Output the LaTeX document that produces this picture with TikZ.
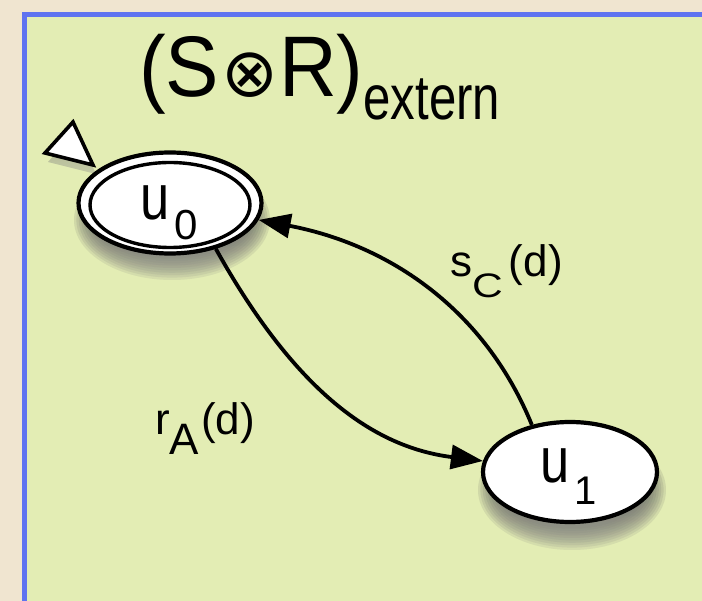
\documentclass[tikz,border=0pt]{standalone}
\usepackage{fontspec}
\setmainfont{Liberation Sans}
\newfontfamily\dejavu{DejaVu Sans}
\usetikzlibrary{arrows.meta,shapes.geometric}
\definecolor{parch}{RGB}{240,229,208}
\definecolor{panel}{RGB}{227,237,180}
\definecolor{frame}{RGB}{95,115,240}
\definecolor{shade}{RGB}{45,45,5}
\tikzset{
  state/.style={ellipse, draw=black, line width=4.2pt, fill=white, inner sep=0pt},
  edge/.style={line width=3.8pt, -{Triangle[length=32pt,width=24pt]}},
  lbl/.style={anchor=base west, inner sep=0pt, text=black},
}
\newcommand{\softshadow}[4]{% cx cy rx ry
  \foreach \k in {0,...,9}{
    \fill[shade, opacity=0.075] (#1,#2) ellipse [x radius={#3+10-2.4*\k}, y radius={#4+12-2.4*\k}];
  }}
\begin{document}
\begin{tikzpicture}[x=1pt,y=-1pt]
\useasboundingbox (0,0) rectangle (702,601);
\fill[parch] (0,0) rectangle (702,601);
\fill[panel] (24.5,15) rectangle (710,610);
\draw[frame, line width=5pt] (24.5,610) -- (24.5,15) -- (710,15);

% title
\node[lbl] (title) at (139,97) {\fontsize{86}{86}\selectfont
  \scalebox{0.93}[1]{(S}\kern2pt{\dejavu\fontsize{68}{68}\selectfont ⊗}\kern1pt\scalebox{0.93}[1]{R)}%
  \raisebox{-23pt}{\fontsize{63}{63}\selectfont\scalebox{0.78}[1]{extern}}};

% shadows
\softshadow{172}{220}{88}{48}
\softshadow{572}{490}{84}{48}
\fill[shade, opacity=0.2] (48,162) -- (76,131) -- (96,174) -- cycle;

% states
\node[state, minimum width=183pt, minimum height=101pt] (u0) at (170,203) {};
\node[state, minimum width=160pt, minimum height=85pt, line width=3.4pt] (u0in) at (170,205) {};
\node[state, minimum width=174pt, minimum height=100pt] (u1) at (570,472) {};

\node[lbl] (u0t) at (140,220) {\fontsize{64}{64}\selectfont\scalebox{0.82}[1]{u}\kern5pt\raisebox{-20pt}{\fontsize{42}{42}\selectfont 0}};
\node[lbl] (u1t) at (540,483) {\fontsize{64}{64}\selectfont\scalebox{0.82}[1]{u}\kern5pt\raisebox{-22pt}{\fontsize{40}{40}\selectfont 1}};

% initial marker
\draw[fill=white, line width=3.6pt, line join=miter] (45,153) -- (73,122) -- (93,165) -- cycle;

% edges
\draw[edge] (u0.-45) .. controls (300,400) and (380,448) .. (u1);
\draw[edge] (u1.129) .. controls (485,310) and (390,245) .. (u0);

% labels
\node[lbl] (lsc) at (450,277) {\fontsize{44}{44}\selectfont s\raisebox{-21pt}{\fontsize{34}{34}\selectfont\scalebox{1.25}[1]{C}}\kern6pt(d)};
\node[lbl] (lra) at (155,435) {\fontsize{44}{44}\selectfont r\raisebox{-20pt}{\fontsize{44}{44}\selectfont A}\kern2pt(d)};
\end{tikzpicture}
\end{document}
